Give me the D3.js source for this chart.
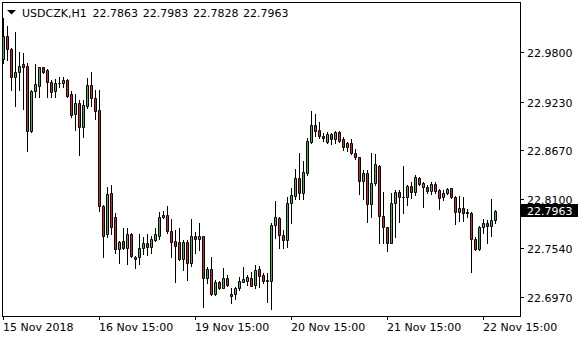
<!DOCTYPE html>
<html lang="en">
<head>
<meta charset="utf-8">
<style>
  body { margin: 0; background: #fff; }
  svg { display: block; background: #fff; }
  text { font-family: "DejaVu Sans", sans-serif; font-size: 11px; fill: #000; }
</style>
<script src="https://d3js.org/d3.v7.min.js"></script>
</head>
<body>
<script>
// USDCZK H1 bars, oldest first
var open = [22.9719,22.9988,22.9835,22.9518,22.9576,22.9665,22.9642,22.8894,22.9353,22.9411,
  22.9627,22.9596,22.9460,22.9356,22.9442,22.9442,22.9480,22.9318,22.9087,22.9218,
  22.8941,22.9183,22.9422,22.9269,22.9134,22.8024,22.7701,22.8171,22.7894,22.7525,
  22.7617,22.7536,22.7701,22.7439,22.7432,22.7536,22.7594,22.7548,22.7632,22.7682,
  22.7894,22.7921,22.7739,22.7624,22.7605,22.7409,22.7605,22.7363,22.7678,22.7640,
  22.7678,22.7190,22.7297,22.7008,22.7143,22.7081,22.7190,22.7008,22.7004,22.7081,
  22.7150,22.7158,22.7190,22.7112,22.7293,22.7228,22.7164,22.7162,22.7805,22.7882,
  22.7690,22.7632,22.8056,22.8144,22.8351,22.8171,22.8402,22.8767,22.8960,22.8903,
  22.8837,22.8760,22.8853,22.8798,22.8876,22.8798,22.8710,22.8749,22.8633,22.8587,
  22.8313,22.8402,22.8044,22.8287,22.8487,22.7913,22.7785,22.7601,22.8056,22.8183,
  22.8132,22.8132,22.8256,22.8190,22.8344,22.8248,22.8241,22.8201,22.8279,22.8210,
  22.8132,22.8171,22.8229,22.8125,22.7959,22.7998,22.7959,22.7940,22.7640,22.7525,
  22.7779,22.7825,22.7797,22.7863];
var high = [23.0196,23.0104,22.9850,23.0034,22.9803,22.9795,22.9680,22.9365,22.9665,22.9634,
  22.9634,22.9607,22.9480,22.9488,22.9518,22.9518,22.9492,22.9356,22.9318,22.9249,
  22.9249,22.9500,22.9576,22.9365,22.9365,22.8036,22.8244,22.8267,22.7947,22.7624,
  22.7767,22.7767,22.7709,22.7447,22.7701,22.7663,22.7701,22.7678,22.7767,22.7959,
  22.7970,22.8024,22.7875,22.7748,22.7767,22.7632,22.7632,22.7875,22.7728,22.7825,
  22.7682,22.7324,22.7432,22.7170,22.7158,22.7312,22.7228,22.7081,22.7092,22.7208,
  22.7324,22.7228,22.7266,22.7343,22.7332,22.7251,22.7254,22.7825,22.8082,22.7901,
  22.7748,22.8132,22.8229,22.8452,22.8633,22.8544,22.8806,22.9122,22.9084,22.8991,
  22.8864,22.8876,22.8864,22.8891,22.8891,22.8825,22.8760,22.8798,22.8683,22.8594,
  22.8441,22.8441,22.8633,22.8625,22.8498,22.8190,22.7785,22.8171,22.8210,22.8210,
  22.8487,22.8267,22.8305,22.8383,22.8363,22.8305,22.8267,22.8305,22.8305,22.8218,
  22.8210,22.8236,22.8236,22.8140,22.8140,22.8132,22.7986,22.7959,22.7663,22.7794,
  22.7871,22.7863,22.8102,22.7983];
var low = [22.9673,22.9711,22.9365,22.9180,22.9365,22.9141,22.8663,22.8883,22.9280,22.9280,
  22.9557,22.9287,22.9280,22.9280,22.9403,22.9403,22.9280,22.9056,22.8903,22.8614,
  22.8818,22.9153,22.9180,22.9033,22.7970,22.7435,22.7667,22.7701,22.7478,22.7363,
  22.7525,22.7351,22.7439,22.7312,22.7355,22.7470,22.7459,22.7478,22.7624,22.7640,
  22.7882,22.7709,22.7439,22.7143,22.7401,22.7286,22.7170,22.7335,22.7478,22.7517,
  22.6861,22.7132,22.6997,22.6997,22.7066,22.7074,22.7104,22.6901,22.6950,22.7055,
  22.7143,22.7112,22.7095,22.7077,22.7089,22.7135,22.6919,22.6835,22.7651,22.7543,
  22.7543,22.7555,22.7825,22.8105,22.8105,22.8105,22.8383,22.8749,22.8837,22.8807,
  22.8775,22.8749,22.8737,22.8749,22.8760,22.8672,22.8660,22.8622,22.8568,22.8160,
  22.8105,22.7843,22.7901,22.8267,22.7601,22.7601,22.7508,22.7594,22.7663,22.7843,
  22.7947,22.8036,22.8113,22.8152,22.8267,22.8010,22.8171,22.8163,22.8178,22.7990,
  22.8094,22.8160,22.8113,22.7817,22.7855,22.7855,22.7894,22.7266,22.7517,22.7517,
  22.7709,22.7601,22.7678,22.7828];
var close = [22.9988,22.9835,22.9518,22.9576,22.9645,22.9627,22.8894,22.9353,22.9430,22.9627,
  22.9576,22.9453,22.9345,22.9442,22.9449,22.9480,22.9299,22.9076,22.9218,22.8941,
  22.9191,22.9422,22.9269,22.9125,22.8028,22.7682,22.8163,22.7785,22.7525,22.7605,
  22.7536,22.7701,22.7447,22.7416,22.7536,22.7594,22.7548,22.7640,22.7701,22.7894,
  22.7921,22.7739,22.7612,22.7566,22.7409,22.7605,22.7363,22.7678,22.7640,22.7678,
  22.7190,22.7297,22.7008,22.7143,22.7074,22.7190,22.7112,22.6988,22.7081,22.7158,
  22.7181,22.7201,22.7106,22.7286,22.7220,22.7162,22.7170,22.7805,22.7894,22.7690,
  22.7632,22.8056,22.8152,22.8351,22.8171,22.8414,22.8775,22.8960,22.8891,22.8837,
  22.8807,22.8853,22.8798,22.8876,22.8775,22.8710,22.8749,22.8633,22.8587,22.8313,
  22.8402,22.8044,22.8287,22.8506,22.7913,22.7785,22.7601,22.8056,22.8183,22.8132,
  22.8134,22.8256,22.8190,22.8356,22.8275,22.8287,22.8201,22.8279,22.8201,22.8120,
  22.8171,22.8218,22.8125,22.7952,22.7998,22.7947,22.7940,22.7640,22.7525,22.7779,
  22.7825,22.7797,22.7863,22.7963];

var priceTicks = [22.9800, 22.9230, 22.8670, 22.8100, 22.7540, 22.6970];
var timeTickBars = [0, 24, 48, 72, 96, 120];
var timeLabels = ["15 Nov 2018", "16 Nov 15:00", "19 Nov 15:00", "20 Nov 15:00", "21 Nov 15:00", "22 Nov 15:00"];
var symbol = "USDCZK,H1";

var width = 580, height = 340;
var plotL = 2, plotT = 2, plotR = 520, plotB = 316;

var svg = d3.select("body").append("svg")
  .attr("width", width)
  .attr("height", height);

// bar index -> left pixel column of the bar's centre
var x = d3.scaleLinear().domain([0, 1]).range([3, 7]);
var y = d3.scaleLinear().domain([22.697, 22.98]).range([297.3, 52.3]);

var bars = d3.range(open.length).map(function(i) {
  return { i: i, o: open[i], h: high[i], l: low[i], c: close[i] };
});

var g = svg.append("g");

// wicks
g.selectAll("line.wick")
  .data(bars)
  .enter().append("line")
  .attr("class", "wick")
  .attr("x1", function(d) { return x(d.i) + 0.5; })
  .attr("x2", function(d) { return x(d.i) + 0.5; })
  .attr("y1", function(d) { return Math.round(y(d.h)); })
  .attr("y2", function(d) { return Math.round(y(d.l)) + 1; })
  .attr("stroke", "#000")
  .attr("stroke-width", 1);

// bodies
g.selectAll("path.body")
  .data(bars)
  .enter().append("path")
  .attr("class", "body")
  .attr("d", function(d) {
    var t = Math.round(y(Math.max(d.o, d.c))) + 0.5;
    var b = Math.round(y(Math.min(d.o, d.c))) + 0.5;
    var x0 = x(d.i) - 0.5, x1 = x(d.i) + 1.5;
    return "M" + x0 + "," + t + "H" + x1 + "V" + b + "H" + x0 + "Z";
  })
  .attr("fill", function(d) { return d.c >= d.o ? "#3fb53f" : "#de2020"; })
  .attr("stroke", "#000")
  .attr("stroke-width", 1);

// frame
svg.append("rect")
  .attr("x", plotL + 0.5).attr("y", plotT + 0.5)
  .attr("width", plotR - plotL).attr("height", plotB - plotT)
  .attr("fill", "none").attr("stroke", "#000");

// price axis
var py = svg.append("g");
priceTicks.forEach(function(v) {
  var yy = Math.round(y(v));
  py.append("line")
    .attr("x1", plotR + 0.5).attr("x2", plotR + 4)
    .attr("y1", yy + 0.5).attr("y2", yy + 0.5)
    .attr("stroke", "#000");
  py.append("text")
    .attr("x", 527).attr("y", yy + 4.5)
    .text(v.toFixed(4));
});

// time axis
var tx = svg.append("g");
timeTickBars.forEach(function(b, k) {
  var xx = x(b);
  tx.append("line")
    .attr("x1", xx + 0.5).attr("x2", xx + 0.5)
    .attr("y1", plotB + 0.5).attr("y2", plotB + 4)
    .attr("stroke", "#000");
  tx.append("text")
    .attr("x", xx).attr("y", 331)
    .text(timeLabels[k]);
});

// current price marker
var last = close[close.length - 1];
var ly = Math.round(y(last));
svg.append("rect")
  .attr("x", 521).attr("y", ly - 7)
  .attr("width", 57).attr("height", 13)
  .attr("fill", "#000");
svg.append("text")
  .attr("x", 527).attr("y", ly + 4)
  .style("fill", "#fff")
  .text(last.toFixed(4));

// header
var n = open.length - 1;
svg.append("path")
  .attr("d", "M7,10H16L11.5,14.5Z")
  .attr("fill", "#000");
svg.append("text").attr("x", 22).attr("y", 16.5).text(symbol);
[open[n], high[n], low[n], close[n]].forEach(function(v, k) {
  svg.append("text")
    .attr("x", 92.5 + k * 50.2).attr("y", 16.5)
    .text(v.toFixed(4));
});
</script>
</body>
</html>
